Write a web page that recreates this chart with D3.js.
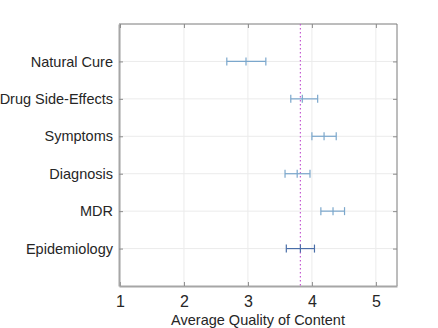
<!doctype html>
<html>
<head>
<meta charset="utf-8">
<style>
    body { margin: 0; background: #fff; }
    svg text { font-family: "Liberation Sans", Arial, sans-serif; fill: #262626; }
    .grid line { stroke: #ebebeb; stroke-width: 1; }
</style>
</head>
<body>
<div id="chart"></div>
<script src="https://cdnjs.cloudflare.com/ajax/libs/d3/7.8.5/d3.min.js"></script>
<script>
// categories, top to bottom
var categories = ["Natural Cure", "Drug Side-Effects", "Symptoms", "Diagnosis", "MDR", "Epidemiology"];
var means = [2.97, 3.85, 4.19, 3.77, 4.33, 3.82];
var lower = [2.67, 3.67, 4.00, 3.58, 4.14, 3.60];
var upper = [3.28, 4.09, 4.38, 3.97, 4.51, 4.04];
var barColors = ["#7ba7cc", "#7ba7cc", "#7ba7cc", "#7ba7cc", "#7ba7cc", "#4a6ea8"];
var xTicks = [1, 2, 3, 4, 5];
var overallMean = 3.82;

var W = 438, H = 328;
var margin = { top: 24, right: 41, bottom: 42, left: 119 };
var width = W - margin.left - margin.right,
    height = H - margin.top - margin.bottom;

var svg = d3.select("#chart").append("svg")
    .attr("width", W)
    .attr("height", H);

var g = svg.append("g")
    .attr("transform", "translate(" + margin.left + "," + margin.top + ")");

var x = d3.scaleLinear().domain([0.985, 5.33]).range([0, width]);
// categories sit at 1..6 inside a 0..7 range
var y = d3.scaleLinear().domain([0, 7]).range([height, 0]);
function yCat(i) { return y(6 - i); }

// grid
var grid = g.append("g").attr("class", "grid");
grid.selectAll(".gx").data(xTicks).enter().append("line")
    .attr("x1", function(d) { return x(d); })
    .attr("x2", function(d) { return x(d); })
    .attr("y1", 0).attr("y2", height);
grid.selectAll(".gy").data(categories).enter().append("line")
    .attr("x1", 0).attr("x2", width)
    .attr("y1", function(d, i) { return yCat(i); })
    .attr("y2", function(d, i) { return yCat(i); });

// box top/right
g.append("path")
    .attr("d", "M0,0H" + width + "V" + height)
    .attr("fill", "none")
    .attr("stroke", "#7a7a7a")
    .attr("stroke-width", 1);

// axes
var xAxis = d3.axisBottom(x).tickValues(xTicks).tickFormat(d3.format("d"))
    .tickSize(-4).tickSizeOuter(0).tickPadding(10);
var gx = g.append("g").attr("transform", "translate(0," + height + ")").call(xAxis);
gx.select(".domain").attr("stroke", "#a6a6a6").attr("stroke-width", 2);
gx.selectAll(".tick line").attr("stroke", "#8c8c8c");
gx.selectAll("text").style("font-size", "16px").attr("fill", "#262626");

var yAxis = d3.axisLeft(y).tickValues([1, 2, 3, 4, 5, 6])
    .tickFormat(function(d) { return categories[6 - d]; })
    .tickSize(-4).tickSizeOuter(0).tickPadding(6);
var gy = g.append("g").call(yAxis);
gy.select(".domain").attr("stroke", "#a6a6a6").attr("stroke-width", 2);
gy.selectAll(".tick line").attr("stroke", "#8c8c8c");
gy.selectAll("text").style("font-size", "14.5px").attr("fill", "#262626");

// right-side ticks
var gr = g.append("g").attr("transform", "translate(" + width + ",0)")
    .call(d3.axisRight(y).tickValues([1, 2, 3, 4, 5, 6]).tickSize(-4).tickSizeOuter(0).tickFormat(""));
gr.select(".domain").remove();
gr.selectAll(".tick line").attr("stroke", "#8c8c8c");
var gt = g.append("g")
    .call(d3.axisTop(x).tickValues(xTicks).tickSize(-4).tickSizeOuter(0).tickFormat(""));
gt.select(".domain").remove();
gt.selectAll(".tick line").attr("stroke", "#8c8c8c");

// mean line
g.append("line")
    .attr("x1", x(overallMean)).attr("x2", x(overallMean))
    .attr("y1", 0).attr("y2", height)
    .attr("stroke", "#c45ad2")
    .attr("stroke-width", 1.2)
    .attr("stroke-dasharray", "1.5,2.5");

// error bars
var bars = g.selectAll(".bar").data(categories).enter().append("g")
    .attr("stroke", function(d, i) { return barColors[i]; })
    .attr("stroke-width", 1.2);
bars.append("line")
    .attr("x1", function(d, i) { return x(lower[i]); })
    .attr("x2", function(d, i) { return x(upper[i]); })
    .attr("y1", function(d, i) { return yCat(i); })
    .attr("y2", function(d, i) { return yCat(i); });
[lower, means, upper].forEach(function(arr) {
    bars.append("line")
        .attr("x1", function(d, i) { return x(arr[i]); })
        .attr("x2", function(d, i) { return x(arr[i]); })
        .attr("y1", function(d, i) { return yCat(i) - 4; })
        .attr("y2", function(d, i) { return yCat(i) + 4; });
});

// x label
svg.append("text")
    .attr("x", margin.left + width / 2)
    .attr("y", 325)
    .attr("text-anchor", "middle")
    .style("font-size", "14.5px")
    .text("Average Quality of Content");
</script>
</body>
</html>
